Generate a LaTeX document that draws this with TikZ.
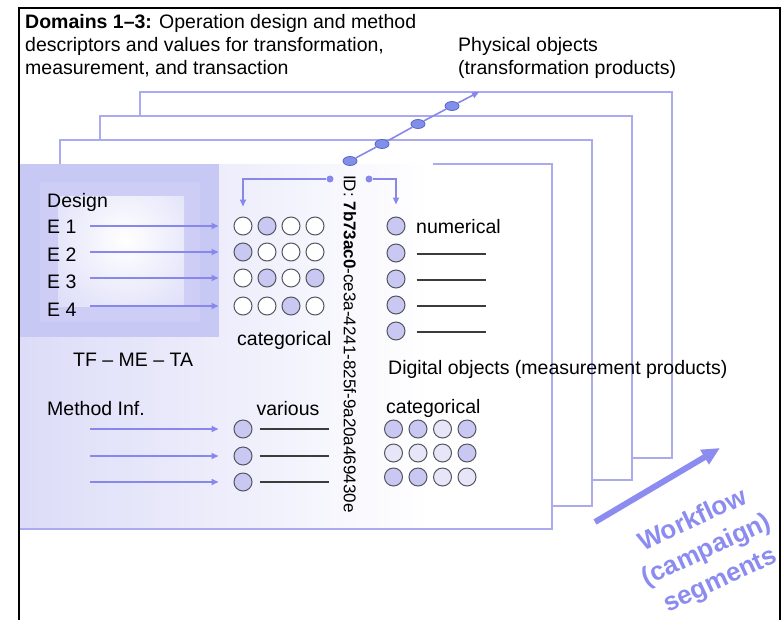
\documentclass[tikz,border=0pt]{standalone}
\usepackage{fontspec}
\setmainfont{Liberation Sans}
\usepackage{tikz}
\usetikzlibrary{arrows.meta,shapes.geometric}

\begin{document}
\begin{tikzpicture}[x=1pt,y=-1pt,
    sheet/.style={draw=sheetline, line width=1.3pt, fill=white},
    flow/.style={draw=flowblue, line width=1.6pt, -{Triangle[length=7pt,width=6pt]}},
    bubble/.style={circle, draw=bubbleline, line width=1pt, minimum size=18pt, inner sep=0pt},
    blank/.style={draw=blankline, line width=1.2pt},
    lbl/.style={font=\fontsize{19.5}{23}\selectfont, inner sep=0pt, anchor=base west},
    idlink/.style={ellipse, draw=linkline, line width=0.8pt, fill=linkfill, minimum width=14pt, minimum height=9pt, inner sep=0pt},
    iddot/.style={circle, fill=flowblue, inner sep=0pt, minimum size=7pt}]

        % Define colors
        \definecolor{sheetline}{RGB}{170,170,238} % sheet outlines
        \definecolor{flowblue}{RGB}{136,136,236} % arrows
        \definecolor{bubbleline}{RGB}{85,85,95}
        \definecolor{blankline}{RGB}{60,60,60}
        \definecolor{catfill}{RGB}{200,200,242} % filled value
        \definecolor{catlight}{RGB}{230,230,248} % pale value
        \definecolor{designbox}{RGB}{200,200,244}
        \definecolor{designmid}{RGB}{205,205,245}
        \definecolor{designglow}{RGB}{211,211,247}
        \definecolor{sheetfade}{RGB}{220,220,248}
        \definecolor{linkfill}{RGB}{128,144,232}
        \definecolor{linkline}{RGB}{90,100,200}
        \definecolor{wfblue}{RGB}{140,140,240}

        \useasboundingbox (0,0) rectangle (784,619);

        % Stacked sheets (back to front)
        \draw[sheet] (140,92) rectangle (672,458);
        \draw[sheet] (100,116) rectangle (632,480);
        \draw[sheet] (60,140) rectangle (592,506);

        % Front sheet with fading fill
        \fill[white] (20,164) rectangle (552,529);
        \shade[left color=sheetfade, right color=white] (20,164) rectangle (430,529);
        \draw[sheetline, line width=1.3pt] (433,164) -- (552,164) -- (552,529) -- (20,529);

        % Design box with glow
        \fill[designbox] (20,164) rectangle (219,337);
        \fill[designmid] (40,182) rectangle (200,322);
        \begin{scope}
            \clip (58,196) rectangle (184,306);
            \shade[inner color=white, outer color=designglow] (5,120) rectangle (245,360);
        \end{scope}

        % Heading
        \node[lbl, anchor=north west, align=left] (heading) at (25,14)
            {\textbf{Domains 1–3:} Operation design and method\\descriptors and values for transformation,\\measurement, and transaction};
        \node[lbl, anchor=north west, align=left] (physical) at (458,37)
            {Physical objects\\(transformation products)};

        % Design labels
        \node[lbl] (design) at (47,207) {Design};
        \foreach \i/\y in {1/233,2/261,3/288,4/316}
            \node[lbl] (E\i) at (47,\y) {E \i};

        % Categorical grid (design)
        \foreach \r/\y/\fills in {1/226/{white,catfill,white,white}, 2/252/{catfill,white,white,white},
                                  3/278/{white,catfill,white,catfill}, 4/306/{white,white,catfill,white}}
            \foreach \f [count=\c] in \fills
                \node[bubble, fill=\f] (cat\r\c) at ({219+24*\c},\y) {};
        \foreach \r/\y in {1/226,2/252,3/278,4/306} {
            \coordinate (es\r) at (90,\y);
            \draw[flow] (es\r) -- ([xshift=-15pt]cat\r1.west);
        }
        \node[lbl] (catlab) at (237,345) {categorical};
        \node[lbl] (tfmeta) at (73,366) {TF – ME – TA};

        % Method information
        \node[lbl] (method) at (47,415) {Method Inf.};
        \node[lbl, anchor=base] (various) at (288,415) {various};
        \foreach \r/\y in {1/429,2/456,3/482} {
            \node[bubble, fill=catfill] (m\r) at (243,\y) {};
            \coordinate (ms\r) at (90,\y);
            \draw[flow] (ms\r) -- ([xshift=-15pt]m\r.west);
            \draw[blank] ([xshift=7pt]m\r.east) -- ++(69,0);
        }

        % Numerical values
        \foreach \r/\y in {1/226,2/253,3/279,4/305,5/331}
            \node[bubble, fill=catfill] (num\r) at (396,\y) {};
        \node[lbl] (numlab) at (416,233) {numerical};
        \foreach \r in {2,...,5}
            \draw[blank] ([xshift=11pt,yshift=-1pt]num\r.east) -- ++(69,0);
        \node[lbl] (digital) at (388,374) {Digital objects (measurement products)};

        % Categorical grid (measurement)
        \node[lbl] (catlabm) at (386,413) {categorical};
        \foreach \r/\y/\fills in {1/429/{catfill,catfill,catlight,catfill}, 2/453/{catlight,catlight,catlight,catfill},
                                  3/477/{catfill,catfill,catlight,catlight}}
            \foreach \f [count=\c] in \fills
                \node[bubble, fill=\f] (mcat\r\c) at ({369+24.5*\c},\y) {};

        % Identifier
        \node[rotate=-90, font=\fontsize{17}{20}\selectfont, inner sep=0pt, anchor=west] (uuid) at (350,175)
            {ID: \textbf{7b73ac0}-ce3a-4241-825f-9a20a469430e};
        \node[iddot] (idL) at (330,179) {};
        \node[iddot] (idR) at (369,179) {};
        \draw[flow] (idL) -| ([yshift=10pt]cat11.north);
        \draw[flow] (idR) -| ([yshift=12pt]num1.north);

        % Links through the sheets
        \node[idlink] (lk1) at (350,161) {};
        \node[idlink] (lk2) at (382,144) {};
        \node[idlink] (lk3) at (418,124) {};
        \node[idlink] (lk4) at (452,106) {};
        \coordinate (lktip) at (479,92);
        \draw[flow] (lk1) -- (lk2) -- (lk3) -- (lk4) -- (lktip);

        % Workflow arrow
        \coordinate (wfstart) at (595,522);
        \coordinate (wfend) at (720,448);
        \draw[wfblue, line width=6pt, -{Triangle[length=18pt,width=16pt]}] (wfstart) -- (wfend);
        \node[rotate=25, align=center, text=wfblue, font=\bfseries\fontsize{26}{33}\selectfont] (workflow) at (707,551)
            {Workflow\\(campaign)\\segments};

        % Outer frame
        \draw[black, line width=2pt] (19,640) -- (19,8) -- (780,8) -- (780,640);
\end{tikzpicture}
\end{document}
